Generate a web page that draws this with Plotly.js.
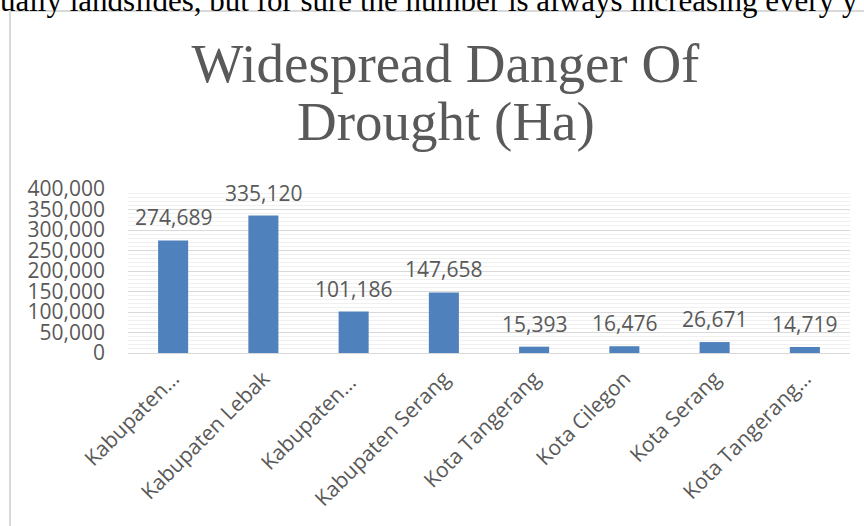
<!DOCTYPE html>
<html>
<head>
<meta charset="utf-8">
<script src="https://cdn.plot.ly/plotly-3.0.1.min.js"></script>
<style>
html,body{margin:0;padding:0;background:#fff;overflow:hidden;}
#chart{width:864px;height:526px;}
</style>
</head>
<body>
<div id="chart"></div>
<script>
// ---- data ----
var categories = ["Kabupaten…", "Kabupaten Lebak", "Kabupaten… ", "Kabupaten Serang", "Kota Tangerang", "Kota Cilegon", "Kota Serang", "Kota Tangerang…"];
var values = [274689, 335120, 101186, 147658, 15393, 16476, 26671, 14719];
var yTickValues = [0, 50000, 100000, 150000, 200000, 250000, 300000, 350000, 400000];
var titleLine1 = "Widespread Danger Of";
var titleLine2 = "Drought (Ha)";
var docText = "ually landslides, but for sure the number is always increasing every y";

// ---- layout helpers (pixel -> paper) ----
var W = 864, H = 526;
var mL = 128, mR = 14, mT = 189, mB = 173;
var pw = W - mL - mR, ph = H - mT - mB;
function px2x(px){ return (px - mL) / pw; }
function py2y(py){ return (H - mB - py) / ph; }

var grey = "#595959";
var labelFont = {family: "'Open Sans', sans-serif", size: 21, color: grey};

function fmt(v){ return v.toLocaleString('en-US'); }

var trace = {
  type: "bar",
  x: categories,
  y: values,
  marker: {color: "#4F81BD"},
  hoverinfo: "x+y"
};

var annotations = values.map(function(v, i){
  return {
    x: categories[i], y: v, xref: "x", yref: "y",
    text: fmt(v), showarrow: false,
    yanchor: "bottom", yshift: 7,
    font: labelFont
  };
});

annotations.push({
  xref: "paper", yref: "paper",
  x: px2x(445.5), y: py2y(121),
  xanchor: "center", yanchor: "middle",
  text: titleLine2, showarrow: false,
  font: {family: "'Liberation Serif', serif", size: 55, color: grey}
});

annotations.push({
  xref: "paper", yref: "paper",
  x: px2x(-2), y: py2y(20),
  xanchor: "left", yanchor: "bottom",
  text: docText, showarrow: false,
  font: {family: "'Liberation Serif', serif", size: 31, color: "#000"}
});

var layout = {
  width: W, height: H,
  margin: {l: mL, r: mR, t: mT, b: mB, pad: 0},
  paper_bgcolor: "#fff",
  plot_bgcolor: "#fff",
  showlegend: false,
  bargap: 0.667,
  title: {
    text: titleLine1,
    font: {family: "'Liberation Serif', serif", size: 55, color: grey},
    xref: "container", yref: "container",
    x: 445.5 / W, xanchor: "center",
    y: 1 - 63 / H, yanchor: "middle"
  },
  xaxis: {
    type: "category",
    tickangle: -45,
    tickfont: labelFont,
    showgrid: false,
    showline: true,
    linecolor: "#d9d9d9",
    linewidth: 1,
    ticks: "",
    ticklabelstandoff: 4,
    fixedrange: true
  },
  yaxis: {
    range: [0, 400000],
    tickvals: yTickValues,
    ticktext: yTickValues.map(fmt),
    tickfont: labelFont,
    showgrid: true,
    gridcolor: "#d9d9d9",
    gridwidth: 1,
    minor: {dtick: 10000, showgrid: true, gridcolor: "#f0f0f0", gridwidth: 1},
    zeroline: false,
    showline: false,
    ticks: "",
    ticklabelstandoff: 22,
    fixedrange: true
  },
  shapes: [
    {type: "line", xref: "paper", yref: "paper",
     x0: px2x(10), x1: px2x(10), y0: py2y(11), y1: py2y(540),
     line: {color: "#d9d9d9", width: 2}},
    {type: "line", xref: "paper", yref: "paper",
     x0: px2x(10), x1: px2x(880), y0: py2y(11), y1: py2y(11),
     line: {color: "#d9d9d9", width: 2}}
  ],
  annotations: annotations
};

Plotly.newPlot("chart", [trace], layout, {displayModeBar: false, staticPlot: true});
</script>
</body>
</html>
